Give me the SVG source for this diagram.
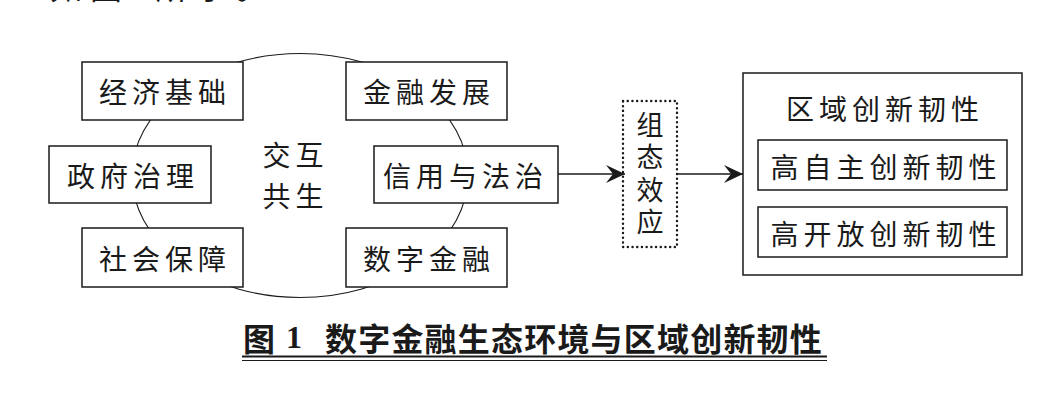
<svg xmlns="http://www.w3.org/2000/svg" width="1061" height="403" viewBox="0 0 1061 403">
<defs>
<style>
text{font-family:"Noto Sans CJK SC","Noto Sans CJK JP",sans-serif;fill:#1a1a1a;}
.t{font-size:28px;letter-spacing:5px;text-anchor:middle;dominant-baseline:central;}
.v{font-size:27px;letter-spacing:5.5px;writing-mode:vertical-rl;text-orientation:upright;dominant-baseline:central;}
.box{fill:#fff;stroke:#1a1a1a;stroke-width:1.5;}
.conn{stroke:#1a1a1a;stroke-width:1.3;fill:none;}
.cap{font-size:32px;font-weight:bold;dominant-baseline:central;}
</style>
<marker id="ah" viewBox="-20 -10 21 20" refX="0" refY="0" markerWidth="21" markerHeight="20" markerUnits="userSpaceOnUse" orient="auto">
<path d="M0,0 L-19,-9 L-12,0 L-19,9 Z" fill="#1a1a1a"/>
</marker>
</defs>
<rect width="1061" height="403" fill="#fff"/>
<text x="50" y="-1" style="font-size:32px;letter-spacing:8px;">如图1所示。</text>

<g id="ring">
<ellipse cx="300" cy="175.5" rx="168" ry="122" fill="none" stroke="#1a1a1a" stroke-width="1.1"/>
<text class="t" x="295.5" y="154">交互</text>
<text class="t" x="295.5" y="195">共生</text>
</g>

<g id="jingji"><rect class="box" x="82" y="62" width="161" height="58"/><text class="t" x="165" y="91">经济基础</text></g>
<g id="jinrong"><rect class="box" x="346" y="62" width="161" height="58"/><text class="t" x="429" y="91">金融发展</text></g>
<g id="zhengfu"><rect class="box" x="49" y="146" width="162" height="57"/><text class="t" x="133" y="174.5">政府治理</text></g>
<g id="xinyong"><rect class="box" x="374" y="146" width="184" height="57"/><text class="t" x="465.5" y="174.5">信用与法治</text></g>
<g id="shehui"><rect class="box" x="82" y="228" width="161" height="59"/><text class="t" x="165" y="257.5">社会保障</text></g>
<g id="shuzi"><rect class="box" x="346" y="228" width="161" height="59"/><text class="t" x="429" y="257.5">数字金融</text></g>

<g id="zutai">
<rect x="623" y="101" width="54" height="146" fill="#fff" stroke="#1a1a1a" stroke-width="2.4" stroke-dasharray="0.1 4.6" stroke-linecap="round"/>
<text class="v" x="650" y="111">组态效应</text>
</g>

<g id="quyu">
<rect class="box" x="743" y="73" width="279" height="202"/>
<text class="t" x="885" y="108">区域创新韧性</text>
<rect class="box" x="758" y="140" width="249" height="50"/>
<text class="t" x="886" y="166">高自主创新韧性</text>
<rect class="box" x="758" y="207" width="249" height="50"/>
<text class="t" x="886" y="233">高开放创新韧性</text>
</g>

<g id="connectors">
<line class="conn" x1="558" y1="174" x2="625" y2="174" marker-end="url(#ah)"/>
<line class="conn" x1="677" y1="174" x2="743" y2="174" marker-end="url(#ah)"/>
</g>

<g id="caption">
<text class="cap" x="243" y="337">图</text>
<text class="cap" x="286" y="337" style="font-family:'Liberation Serif',serif;">1</text>
<text class="cap" x="325" y="337" style="letter-spacing:1.2px;">数字金融生态环境与区域创新韧性</text>
<line x1="242" y1="356.5" x2="827" y2="356.5" stroke="#1a1a1a" stroke-width="2"/>
<line x1="242" y1="360.5" x2="827" y2="360.5" stroke="#1a1a1a" stroke-width="1"/>
</g>
</svg>
